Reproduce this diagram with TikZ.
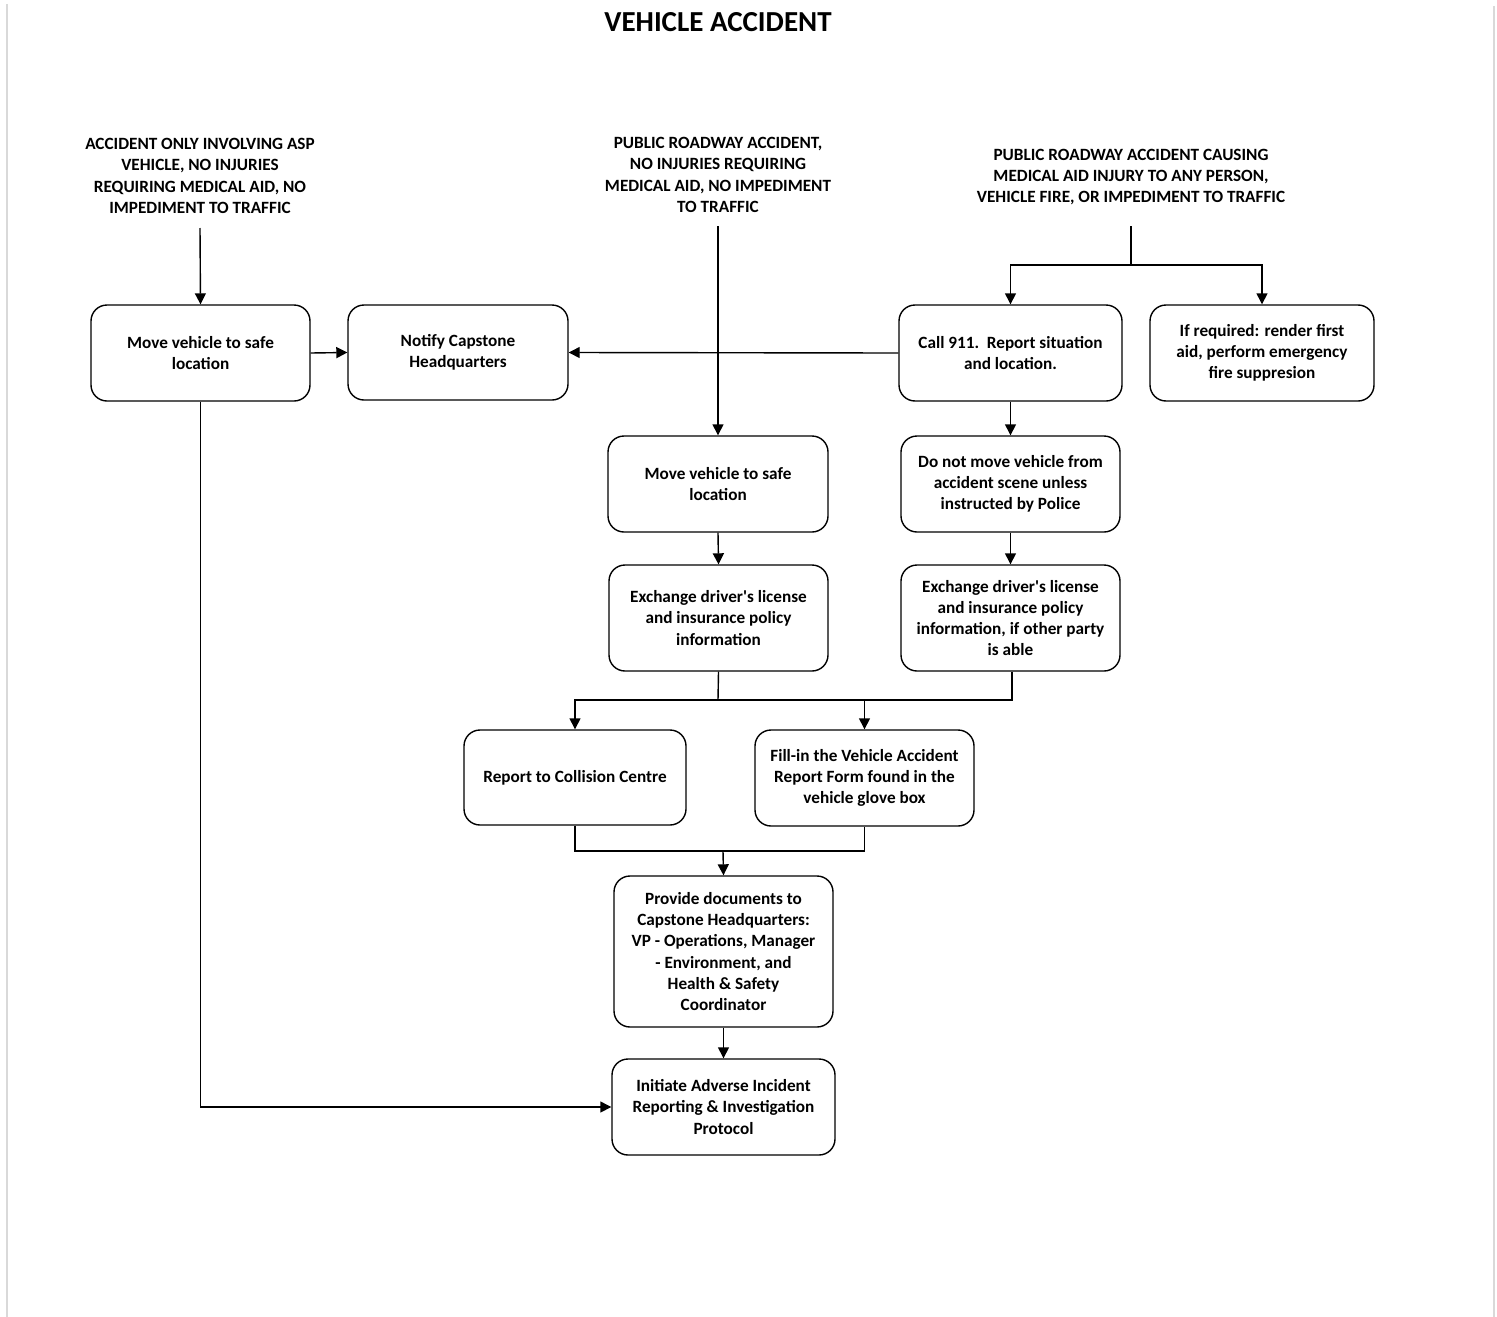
\documentclass[tikz,border=0pt]{standalone}
\usepackage{fontspec}
\setmainfont{Carlito}
\usetikzlibrary{arrows.meta}
\begin{document}
\begin{tikzpicture}[x=1pt,y=-1pt,
  every node/.style={font=\fontsize{17.2}{21.3}\selectfont\bfseries, align=center, inner sep=0pt},
  box/.style={draw, line width=1.4pt, rounded corners=16pt, minimum width=220pt, minimum height=96pt},
  conn/.style={line width=1.4pt},
  arr/.style={line width=1.4pt, -{Triangle[length=11pt,width=11pt]}}
]
\useasboundingbox (0,0) rectangle (1497,1317);
\draw[black!15, line width=1.5pt] (7,4) -- (7,1317);
\draw[black!15, line width=1.5pt] (1494,6) -- (1494,1317);

\node[font=\fontsize{29}{34}\selectfont\bfseries] (title) at (718,22) {VEHICLE ACCIDENT};

\node (l1) at (200,176) {ACCIDENT ONLY INVOLVING ASP\\VEHICLE, NO INJURIES\\REQUIRING MEDICAL AID, NO\\IMPEDIMENT TO TRAFFIC};
\node (l2) at (718,175) {PUBLIC ROADWAY ACCIDENT,\\NO INJURIES REQUIRING\\MEDICAL AID, NO IMPEDIMENT\\TO TRAFFIC};
\node (l3) at (1131,177) {PUBLIC ROADWAY ACCIDENT CAUSING\\MEDICAL AID INJURY TO ANY PERSON,\\VEHICLE FIRE, OR IMPEDIMENT TO TRAFFIC};
\coordinate (l1b) at (200,228);
\coordinate (l2b) at (718,226);
\coordinate (l3b) at (1131,226);

\node[box, minimum width=219pt] (b1) at (200.5,353) {Move vehicle to safe\\location};
\node[box, minimum width=220pt, minimum height=95pt] (b2) at (458,352.5) {Notify Capstone\\Headquarters};
\node[box, minimum width=223pt] (b3) at (1010.5,353) {Call 911.\ \ Report situation\\and location.};
\node[box, minimum width=224pt] (b4) at (1262,353) {If required: render first\\aid, perform emergency\\fire suppresion};
\node[box] (b5) at (718,484) {Move vehicle to safe\\location};
\node[box, minimum width=219pt] (b6) at (1010.5,484) {Do not move vehicle from\\accident scene unless\\instructed by Police};
\node[box, minimum width=219pt, minimum height=106pt] (b7) at (718.5,618) {Exchange driver\textquotesingle s license\\and insurance policy\\information};
\node[box, minimum width=219pt, minimum height=106pt] (b8) at (1010.5,618) {Exchange driver\textquotesingle s license\\and insurance policy\\information, if other party\\is able};
\node[box, minimum width=222pt, minimum height=95pt] (b9) at (575,777.5) {Report to Collision Centre};
\node[box, minimum width=219pt] (b10) at (864.5,778) {Fill-in the Vehicle Accident\\Report Form found in the\\vehicle glove box};
\node[box, minimum width=219pt, minimum height=151pt] (b11) at (723.5,951.5) {Provide documents to\\Capstone Headquarters:\\VP - Operations, Manager\\- Environment, and\\Health \& Safety\\Coordinator};
\node[box, minimum width=223pt] (b12) at (723.5,1107) {Initiate Adverse Incident\\Reporting \& Investigation\\Protocol};

\coordinate (j3) at (1131,265);
\coordinate (j7) at (718,700);
\coordinate (j8) at (1012,700);
\coordinate (j9) at (575,851);
\coordinate (j11) at (723,851);

\draw[arr] (l1b) -- (b1.north);
\draw[arr] (b1.east) -- (b2.west);
\draw[arr] (l2b) -- (b5.north);
\draw[conn] (l3b) -- (j3);
\draw[arr] (j3) -| (b3.north);
\draw[arr] (j3) -| (b4.north);
\draw[arr] (b3.west) -- (b2.east);
\draw[arr] (b3.south) -- (b6.north);
\draw[arr] (b5.south) -- (b7.north);
\draw[arr] (b6.south) -- (b8.north);
\draw[conn] (b7.south) -- (j7);
\draw[arr] (j7) -| (b9.north);
\draw[arr] (j7) -| (b10.north);
\draw[conn] (b8.south -| j8) -- (j8) -- (j7 -| b10.north);
\draw[conn] (b9.south) -- (j9) -| (b10.south);
\draw[arr] (j11) -- (b11.north);
\draw[arr] (b11.south) -- (b12.north);
\draw[arr] (b1.south) |- (b12.west);
\end{tikzpicture}
\end{document}
